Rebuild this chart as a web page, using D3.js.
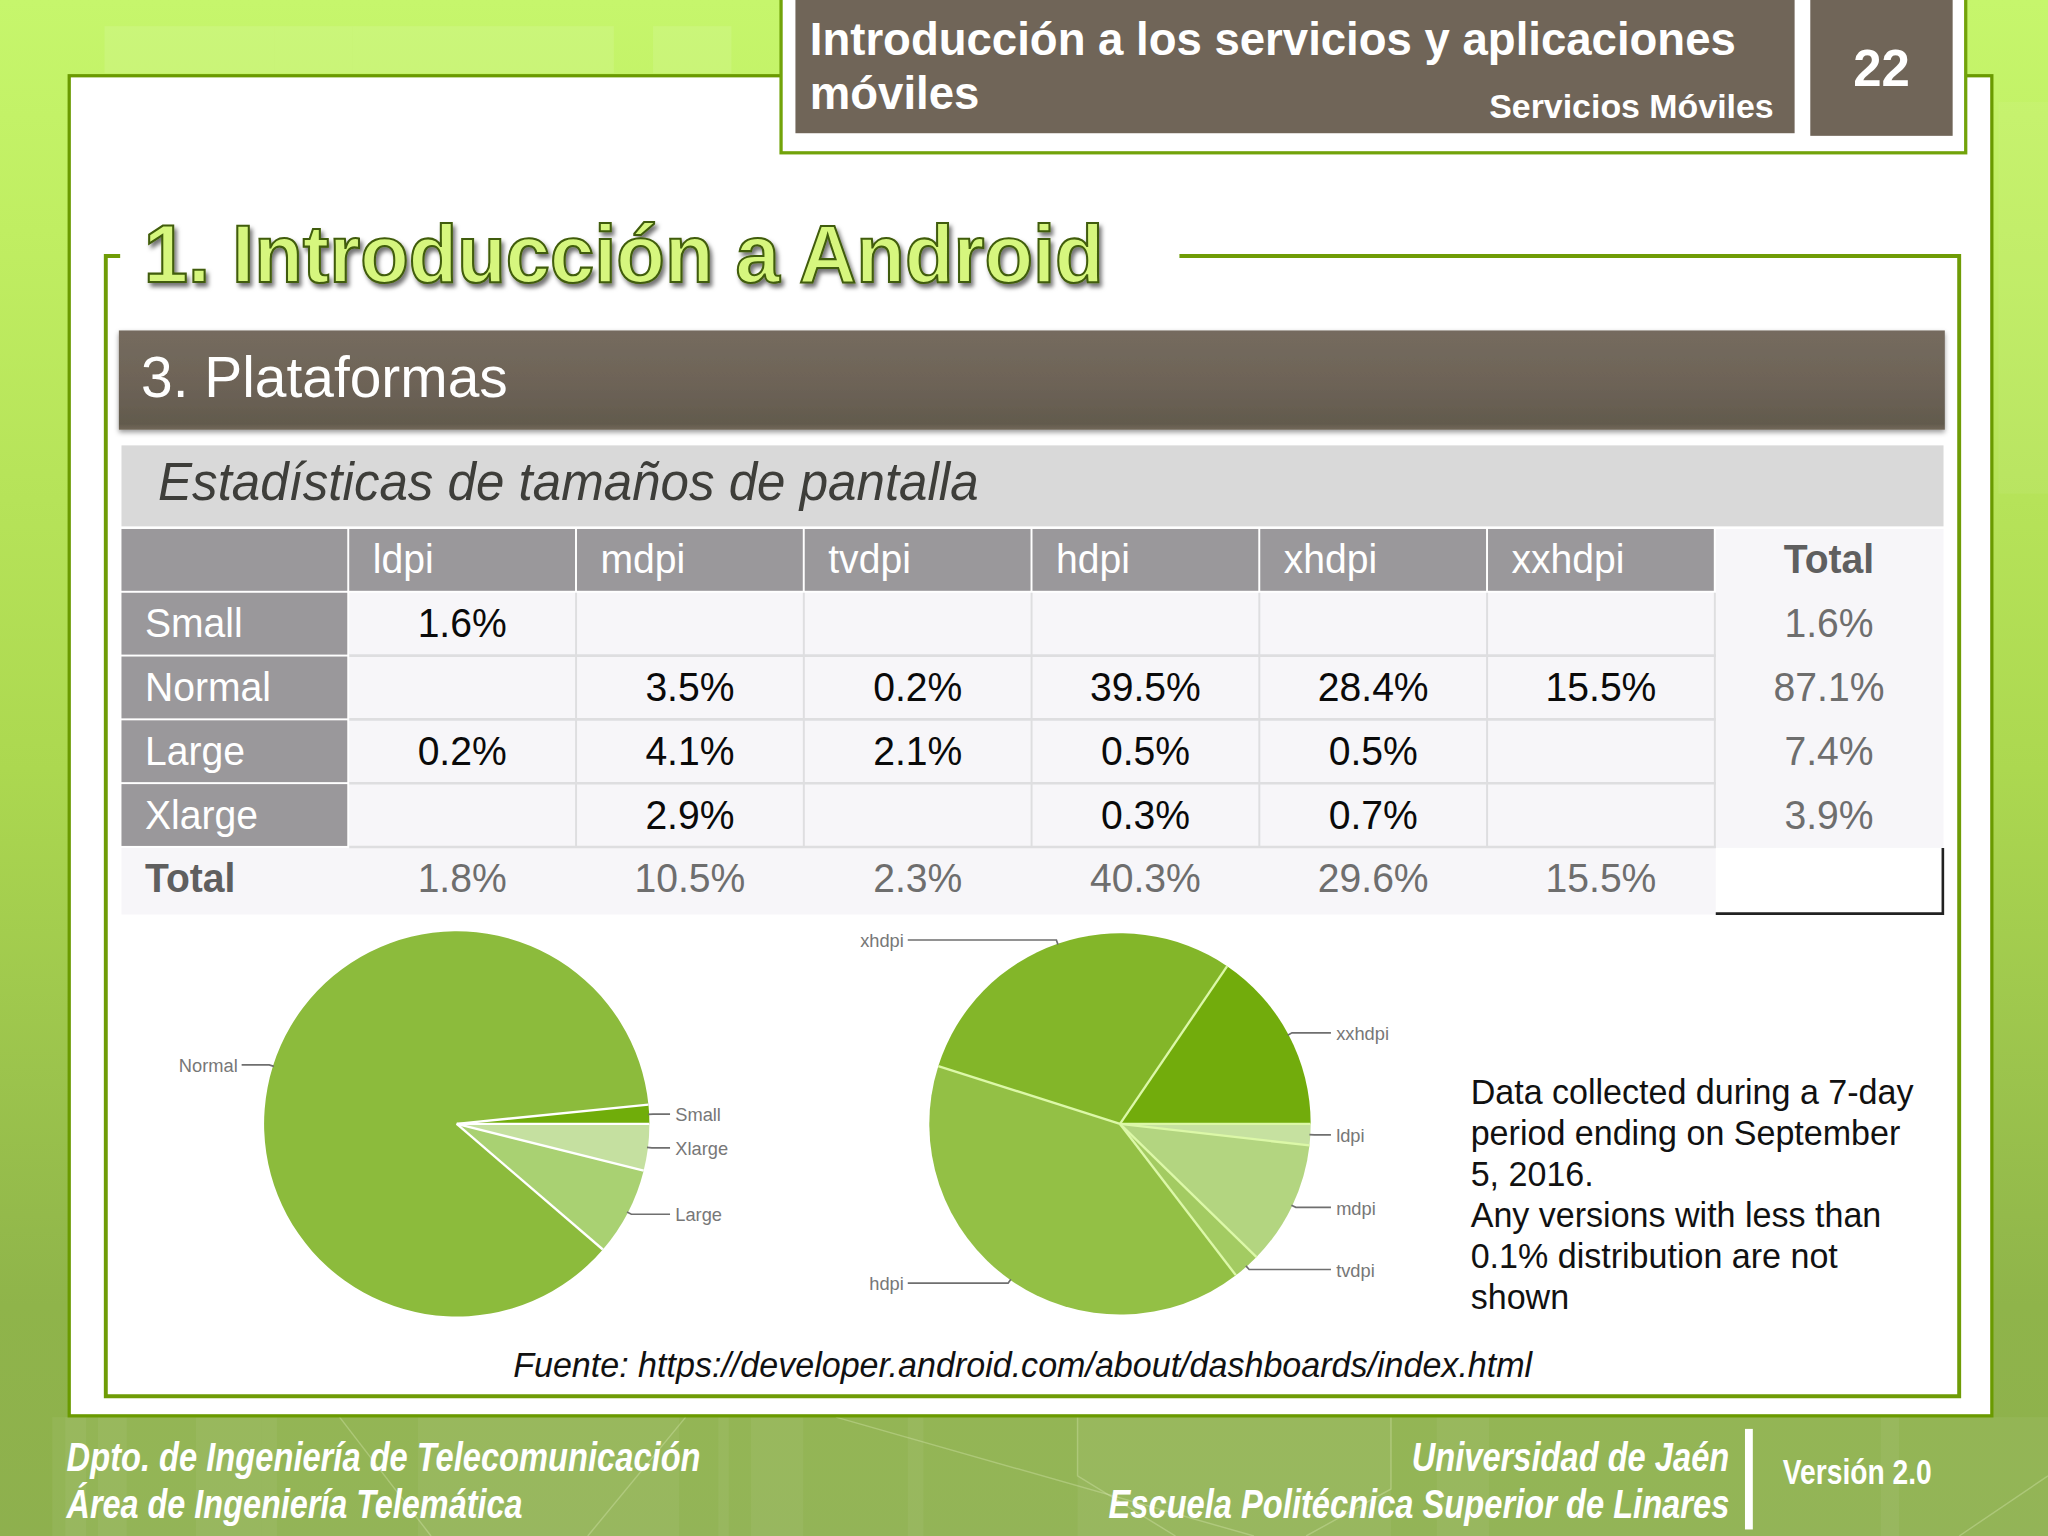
<!DOCTYPE html>
<html lang="es"><head><meta charset="utf-8">
<script src="https://cdn.jsdelivr.net/npm/d3@7"></script>
<style>html,body{margin:0;padding:0;background:#fff}svg{display:block}text{font-family:"Liberation Sans",Arial,sans-serif}</style>
</head><body><svg id="c" width="2048" height="1536" viewBox="0 0 1568 1176"></svg>
<script>
const columns = ["ldpi","mdpi","tvdpi","hdpi","xhdpi","xxhdpi"];
const sizes = ["Small","Normal","Large","Xlarge"];
const smallRow  = ["1.6%","","","","",""];
const normalRow = ["","3.5%","0.2%","39.5%","28.4%","15.5%"];
const largeRow  = ["0.2%","4.1%","2.1%","0.5%","0.5%",""];
const xlargeRow = ["","2.9%","","0.3%","0.7%",""];
const totalRow  = ["1.8%","10.5%","2.3%","40.3%","29.6%","15.5%"];
const totalCol  = ["1.6%","87.1%","7.4%","3.9%"];
const tableRows = [smallRow,normalRow,largeRow,xlargeRow];

const sizePieLabels = ["Xlarge","Large","Normal","Small"];
const sizePieValues = [3.9,7.4,87.1,1.6];
const sizePieColors = ["#c5e0a0","#a9d172","#8cbb3c","#70ad0a"];
const densPieLabels = ["ldpi","mdpi","tvdpi","hdpi","xhdpi","xxhdpi"];
const densPieValues = [1.8,10.5,2.3,40.3,29.6,15.5];
const densPieColors = ["#c6e1a0","#b3d580","#a3cb62","#93c045","#83b629","#72ac0c"];
const noteLines = ["Data collected during a 7-day","period ending on September","5, 2016.","Any versions with less than","0.1% distribution are not","shown"];

const svg = d3.select("#c");
const defs = svg.append("defs");
function grad(id, stops){
  const g = defs.append("linearGradient").attr("id",id).attr("x1",0).attr("y1",0).attr("x2",0).attr("y2",1);
  stops.forEach(s=>g.append("stop").attr("offset",s[0]).attr("stop-color",s[1]));
}
grad("bg",[[0,"#c6f66c"],[0.15,"#c0ee62"],[0.5,"#acd850"],[0.85,"#8fb44a"],[1,"#8eb04e"]]);
grad("bar",[[0,"#756b5e"],[0.55,"#6d6357"],[0.94,"#625a4d"],[1,"#726859"]]);
const shadow = defs.append("filter").attr("id","ts").attr("x","-5%").attr("y","-20%").attr("width","110%").attr("height","150%");
shadow.append("feDropShadow").attr("dx",2).attr("dy",3).attr("stdDeviation",1.6).attr("flood-color","#000").attr("flood-opacity",.55);
const soft = defs.append("filter").attr("id","bs").attr("x","-2%").attr("y","-10%").attr("width","104%").attr("height","125%");
soft.append("feDropShadow").attr("dx",0).attr("dy",2).attr("stdDeviation",2).attr("flood-color","#000").attr("flood-opacity",.4);

// squeeze a text horizontally to a factor of its natural width
function squeeze(sel,f){
  const n = sel.node();
  sel.attr("textLength",n.getComputedTextLength()*f).attr("lengthAdjust","spacingAndGlyphs");
  return sel;
}
const TF = .966;

// background
svg.append("rect").attr("width",1568).attr("height",1176).attr("fill","url(#bg)");
[[80,20,130,36],[210,20,60,36],[270,20,200,36],[500,20,60,36]].forEach(r=>
  svg.append("rect").attr("x",r[0]).attr("y",r[1]).attr("width",r[2]).attr("height",r[3]).attr("fill","#fff").attr("opacity",.1));
svg.append("rect").attr("x",1530).attr("y",78).attr("width",38).attr("height",300).attr("fill","#fff").attr("opacity",.05);
svg.append("rect").attr("x",40).attr("y",1085).attr("width",1528).attr("height",91).attr("fill","#fff").attr("opacity",.05);
[[50,16],[75,22],[150,50],[200,12],[320,200],[550,8],[575,40],[695,12],[825,240],[1100,40],[1440,14]].forEach(r=>
  svg.append("rect").attr("x",r[0]).attr("y",1085).attr("width",r[1]).attr("height",91).attr("fill","#fff").attr("opacity",.05));
[[[260,1085],[330,1176]],[[525,1085],[450,1176]],[[640,1085],[960,1176]],[[825,1085],[825,1130],[900,1176]],[[1065,1085],[1065,1140],[1000,1176]],[[1568,1130],[1500,1176]]].forEach(p=>
  svg.append("path").attr("d",d3.line()(p)).attr("fill","none").attr("stroke","#dcebb8").attr("stroke-width",1.1).attr("opacity",.35));

// main panel
svg.append("rect").attr("x",53).attr("y",58).attr("width",1472).attr("height",1026).attr("fill","#fff").attr("stroke","#6a9a00").attr("stroke-width",2.5);

// header
svg.append("rect").attr("x",598).attr("y",-5).attr("width",907).attr("height",122).attr("fill","#fff").attr("stroke","#72a30a").attr("stroke-width",2.5);
svg.append("rect").attr("x",609).attr("y",0).attr("width",765).attr("height",102).attr("fill","#706558");
svg.append("rect").attr("x",1386).attr("y",0).attr("width",109).attr("height",104).attr("fill","#706558");
const white = (t,x,y,fs,o={})=>{
  const s = svg.append("text").text(t).attr("x",x).attr("y",y).attr("font-size",fs).attr("fill",o.fill||"#fff")
  .attr("font-weight",o.weight||"normal").attr("font-style",o.style||"normal").attr("text-anchor",o.anchor||"start");
  return squeeze(s,o.f||TF);
};
white("Introducción a los servicios y aplicaciones",620,42,35.5,{weight:"bold",f:.982});
white("móviles",620,83.5,35.5,{weight:"bold",f:.982});
white("Servicios Móviles",1358,90.5,25.5,{weight:"bold",anchor:"end",f:1.018});
white("22",1440.5,66,39,{weight:"bold",anchor:"middle",f:1});

// content frame
svg.append("path").attr("d","M92 196H81V1069H1500V196H903").attr("fill","none").attr("stroke","#6f9c06").attr("stroke-width",3);
squeeze(svg.append("text").text("1. Introducción a Android").attr("x",110).attr("y",216).attr("font-size",62.5).attr("font-weight","bold")
  .attr("fill","#d6f67e").attr("stroke","#3f5c08").attr("stroke-width",1.6).attr("filter","url(#ts)"),.974);

svg.append("rect").attr("x",91).attr("y",253).attr("width",1398).attr("height",76).attr("fill","url(#bar)").attr("filter","url(#bs)");
white("3. Plataformas",108,304,44,{f:.99});
svg.append("rect").attr("x",93).attr("y",341).attr("width",1395).attr("height",62).attr("fill","#d9d9d9");
white("Estadísticas de tamaños de pantalla",121,382.5,40.5,{fill:"#3e3e3a",style:"italic"});

// table
const colDomain = ["head",...columns,"Total"];
const rowDomain = ["head",...sizes,"Total"];
const x = d3.scaleBand().domain(colDomain).range([93,1488]);
const y = d3.scaleBand().domain(rowDomain).range([405,698]);
const lineC = "#dedee0";
svg.append("rect").attr("x",x("ldpi")).attr("y",y("Small")).attr("width",x("Total")-x("ldpi")).attr("height",y("Total")-y("Small")).attr("fill","#f7f6f9");
svg.append("rect").attr("x",x("Total")).attr("y",405).attr("width",x.bandwidth()).attr("height",y("Total")-405).attr("fill","#f7f6f9");
svg.append("rect").attr("x",93).attr("y",y("Total")).attr("width",x("Total")-93).attr("height",51).attr("fill","#f7f6f9");
const grey = "#9a989b";
colDomain.slice(0,-1).forEach(c=>svg.append("rect").attr("x",x(c)).attr("y",405).attr("width",x.bandwidth()-1.5).attr("height",y.bandwidth()-1.5).attr("fill",grey));
sizes.forEach(s=>svg.append("rect").attr("x",93).attr("y",y(s)).attr("width",x.bandwidth()-1.5).attr("height",y.bandwidth()-1.5).attr("fill",grey));
columns.forEach(c=>{
  svg.append("line").attr("x1",x(c)+x.bandwidth()-.7).attr("x2",x(c)+x.bandwidth()-.7).attr("y1",y("Small")).attr("y2",y("Total")).attr("stroke",lineC).attr("stroke-width",1.5);
});
sizes.forEach(s=>svg.append("line").attr("x1",x("ldpi")).attr("x2",x("Total")).attr("y1",y(s)+y.bandwidth()-.7).attr("y2",y(s)+y.bandwidth()-.7).attr("stroke",lineC).attr("stroke-width",2));
svg.append("path").attr("d",`M${x("Total")} 699.5H1487.5V${y("Total")}`).attr("fill","none").attr("stroke","#222").attr("stroke-width",2);

const cellFs = 31, base = 34;
columns.forEach(c=>white(c,x(c)+18,405+base,cellFs));
sizes.forEach(s=>white(s,111,y(s)+base,cellFs));
tableRows.forEach((r,i)=>r.forEach((v,j)=>{ if(v) white(v,x(columns[j])+x.bandwidth()/2-.7,y(sizes[i])+base,cellFs,{fill:"#0a0a0a",anchor:"middle"}); }));
white("Total",x("Total")+x.bandwidth()/2-.5,405+base,cellFs,{fill:"#5f5f5f",weight:"bold",anchor:"middle"});
sizes.forEach((s,i)=>white(totalCol[i],x("Total")+x.bandwidth()/2-.5,y(s)+base,cellFs,{fill:"#6e6e6e",anchor:"middle"}));
white("Total",111,y("Total")+base,cellFs,{fill:"#5f5f5f",weight:"bold"});
columns.forEach((c,i)=>white(totalRow[i],x(c)+x.bandwidth()/2-.7,y("Total")+base,cellFs,{fill:"#6e6e6e",anchor:"middle"}));

// pies
function drawPie(labels,values,colors,cx,cy,r,sep,labR,labL){
  const pie = d3.pie().sort(null).startAngle(Math.PI/2).endAngle(Math.PI*2.5)(values);
  const arc = d3.arc().innerRadius(0).outerRadius(r);
  const g = svg.append("g").attr("transform",`translate(${cx},${cy})`);
  g.selectAll("path.s").data(pie).join("path").attr("class","s").attr("d",arc).attr("fill",(d,i)=>colors[i]);
  g.selectAll("line.sep").data(pie).join("line").attr("class","sep").attr("x1",0).attr("y1",0)
    .attr("x2",d=>r*Math.sin(d.startAngle)).attr("y2",d=>-r*Math.cos(d.startAngle)).attr("stroke",sep).attr("stroke-width",1.8);
  pie.forEach((d,i)=>{
    const a = (d.startAngle+d.endAngle)/2;
    const sx = Math.sin(a), sy = -Math.cos(a);
    const left = sx<0;
    const hy = (r+3)*sy;
    const lx = left ? labL-cx : labR-cx;
    g.append("path").attr("d",d3.line()([[r*sx*.995,r*sy*.995],[(r+3)*sx,hy],[lx,hy]])).attr("fill","none").attr("stroke","#6f6f6f").attr("stroke-width",1.3);
    g.append("text").text(labels[i]).attr("x",left?lx-3:lx+4).attr("y",hy+5.5).attr("font-size",14).attr("fill","#777").attr("text-anchor",left?"end":"start");
  });
}
drawPie(sizePieLabels,sizePieValues,sizePieColors,349.7,860.5,147.5,"#fff",513,185);
drawPie(densPieLabels,densPieValues,densPieColors,857.5,860.5,146,"#dcf8a8",1019,695);

noteLines.forEach((t,i)=>white(t,1126,845+i*31.4,26.6,{fill:"#111",f:.98}));
white("Fuente: https://developer.android.com/about/dashboards/index.html",783,1054,27,{fill:"#111",style:"italic",anchor:"middle"});

// footer
white("Dpto. de Ingeniería de Telecomunicación",51,1126,31,{weight:"bold",style:"italic",f:.807});
white("Área de Ingeniería Telemática",51,1162.5,31,{weight:"bold",style:"italic",f:.8});
white("Universidad de Jaén",1324,1126,31,{weight:"bold",style:"italic",anchor:"end",f:.807});
white("Escuela Politécnica Superior de Linares",1324,1162.5,31,{weight:"bold",style:"italic",anchor:"end",f:.807});
svg.append("rect").attr("x",1336).attr("y",1094).attr("width",6).attr("height",77).attr("fill","#fff");
white("Versión 2.0",1365,1136,27,{weight:"bold",f:.8});
</script></body></html>
